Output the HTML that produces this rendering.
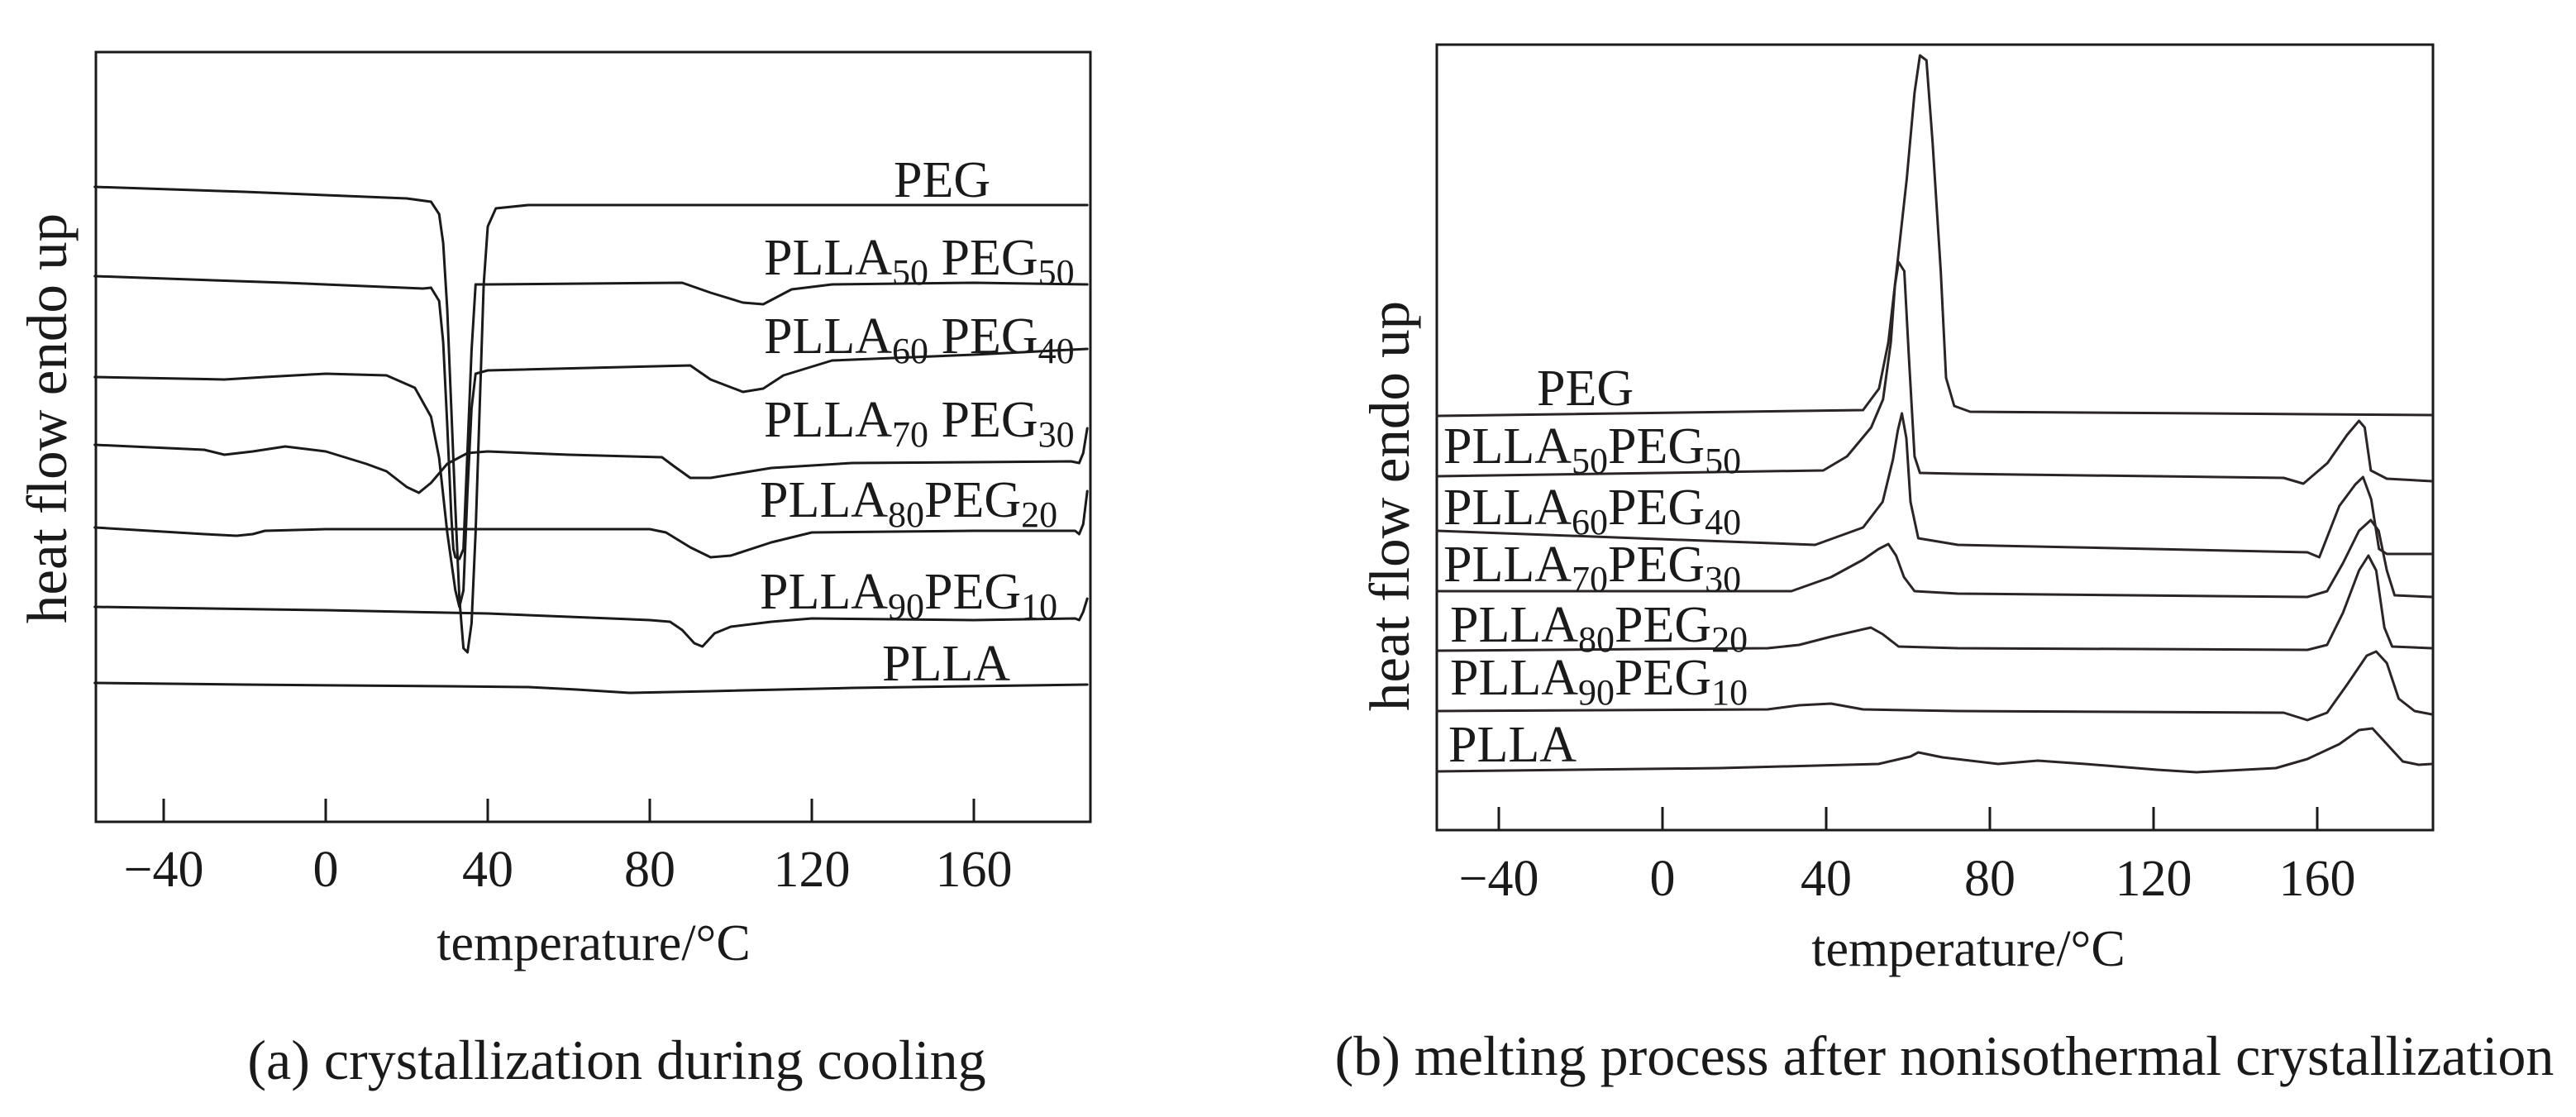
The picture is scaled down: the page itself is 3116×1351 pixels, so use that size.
<!DOCTYPE html>
<html><head><meta charset="utf-8"><style>
html,body{margin:0;padding:0;background:#fff;}
svg{display:block;font-family:"Liberation Serif",serif;}
</style></head><body>
<svg id="fig" width="3116" height="1351" viewBox="0 0 3116 1351" xmlns="http://www.w3.org/2000/svg"></svg>
<script>
// ---- Panel (a) data: temperature (°C) and heat flow (arb. units) ----
const aPEG_T = [-57,-20,20,26,28,29,30,31,32,33,34,35,36,37,38,39,40,42,50,188];
const aPEG_V = [76.8,76.2,75.4,75.0,73.5,70,62,50,38,27,21,20.5,24,35,50,65,72,74.2,74.6,74.6];
const a50_T = [-57,-10,24,26,28,29,30,31,31.5,32,33,34,35,36,37,40,88,95,103,108,115,125,160,188];
const a50_V = [66,65.2,64.5,64.6,63,58,48,37,33,32,31.8,33,45,57,65,65,65.2,64,62.8,62.6,64.4,65,65.2,65];
const a60_T = [-57,-25,-15,0,15,22,26,28,30,32,33,34,35,36,37,40,90,95,103,108,113,125,160,188];
const a60_V = [53.8,53.5,53.8,54.2,54,52.5,49,44,35,28,26,28,40,50,54.2,54.6,55.2,53.5,52,52.4,54,55.8,56.5,57.2];
const a70_T = [-57,-30,-25,-18,-10,0,10,15,20,23,26,30,35,40,60,83,86,90,95,110,130,160,184,186,187,188];
const a70_V = [45.6,45,44.4,44.8,45.4,44.8,43.3,42.4,40.5,39.8,41,43.3,44.6,44.8,44.4,44.1,43,41.6,41.6,42.8,43.4,43.5,43.6,43.4,44.6,47.6];
const a80_T = [-57,-30,-22,-18,-15,0,40,80,84,90,95,100,110,120,160,185,186,187,188];
const a80_V = [35.6,34.8,34.6,34.8,35.2,35.4,35.4,35.4,35,33.2,32,32.2,33.8,35,35.2,35.2,34.8,36,40];
const a90_T = [-57,0,40,80,85,88,91,93,96,100,110,120,160,185,186,187,188];
const a90_V = [26,25.6,25.2,24.4,24.2,23.2,21.6,21.2,22.8,23.6,24.2,24.6,24.4,24.6,24.4,25.4,27];
const aPLLA_T = [-57,-20,30,50,62,75,95,130,188];
const aPLLA_V = [16.8,16.6,16.4,16.3,16,15.6,15.8,16.2,16.6];

// ---- Panel (b) data ----
const bPEG_T = [-55,49,52.9,55.2,57.2,59.7,61.6,62.9,64.5,66,68,69.3,71.3,75.2,188];
const bPEG_V = [50.1,50.8,53.4,59,67.6,78.8,89.2,93.7,93.1,83.2,67.6,54.7,51.3,50.6,50.2];
const b50_T = [-55,39.3,45.1,51,53.9,55.8,56.8,57.7,59.1,60.2,61.6,62.9,72.2,151.8,156.6,162.5,167.3,170.2,171.6,173.1,177,188];
const b50_V = [42.8,43.5,45.2,48.7,52.1,59,65.9,68.7,67.6,57.3,45.2,43.2,43.1,42.6,41.9,44.4,47.8,49.5,48.7,43.5,42.5,42.2];
const b60_T = [-55,37.3,49,53.8,56.3,57.5,58.5,59.6,60.6,62.5,72.2,157.6,160.5,165.4,169.3,171.2,173.2,175.1,177,188];
const b60_V = [36.2,34.5,36.6,39.7,44.8,48.3,50.4,47.4,39.7,35.3,34.5,33.6,33,39.2,41.8,42.7,40,34,33.4,33.4];
const b70_T = [-55,31.5,41.2,49,52.8,55.2,57.1,59,61.6,72.2,157.6,162.4,166.3,170.2,173.1,175,177,178.9,188];
const b70_V = [28.9,28.9,30.6,32.7,34,34.6,33.2,30.6,28.9,28.6,28.2,28.9,32.3,36.2,37.5,36.2,31.4,28.4,28.2];
const b80_T = [-55,25.7,33.4,41.2,50.9,53.8,57.7,72.2,157.6,162.4,166.3,170.2,172.5,174.4,176.4,178.3,188];
const b80_V = [21.7,22,22.4,23.4,24.5,23.7,22.2,22,21.8,22.4,26.3,31.4,33.2,31.4,24.5,22.2,22];
const b90_T = [-55,25.7,33.4,41.2,49,72.2,151.8,157.6,162.4,167.3,172.1,174.4,177,179.9,183.8,188];
const b90_V = [14.4,14.6,15.1,15.3,14.6,14.4,14.2,13.3,14.2,17.6,21.1,21.6,20.2,15.9,14.4,14];
const bPLLA_T = [-55,14,52.8,60.6,62.5,68.4,82,91.7,103.3,120.8,130.5,149.9,157.6,165.4,170.2,173.5,177,180.9,184.8,188];
const bPLLA_V = [7.1,7.5,8,8.9,9.4,8.8,8,8.4,8,7.3,7,7.5,8.6,10.4,12.1,12.3,10.4,8.3,7.9,8];

const tickTemps = [-40,0,40,80,120,160];
const tickLabels = ["\u221240","0","40","80","120","160"];

const NS = "http://www.w3.org/2000/svg";
const svg = document.getElementById('fig');
function mk(tag, attrs, parent){
  const e = document.createElementNS(NS, tag);
  for (const k in attrs) e.setAttribute(k, attrs[k]);
  (parent||svg).appendChild(e);
  return e;
}

function drawPanel(p){
  const g = mk('g', {});
  
  
  const xs = t => p.x0 + (t - p.t0) * p.kx;
  const ys = v => p.yb - v * p.ky;
  const box = mk('rect', {x:p.left, y:p.top, width:p.right-p.left, height:p.yb-p.top, fill:'none', stroke:'#1a1a1a', 'stroke-width':3}, g);
  
  
  tickTemps.forEach((t, i) => {
    const x = xs(t);
    const tk = mk('line', {x1:x, x2:x, y1:p.yb, y2:p.yb-28, stroke:'#1a1a1a', 'stroke-width':3}, g);
    
    
    const lb = mk('text', {x:x, y:p.yb+p.tickDy, 'font-size':62, 'text-anchor':'middle', fill:'#1a1a1a'}, g);
    lb.textContent = tickLabels[i];
    
    
  });
  p.series.forEach(s => {
    let d = '';
    s.T.forEach((t, i) => { d += (i ? 'L' : 'M') + xs(t).toFixed(1) + ',' + ys(s.V[i]).toFixed(1); });
    const path = mk('path', {d:d, fill:'none', stroke:p.color, 'stroke-width':3, 'stroke-linejoin':'round', 'stroke-linecap':'round'}, g);
    
    
  });
  return g;
}

drawPanel({name:'panel-a-cooling', left:116, right:1319, top:63, yb:994, x0:394, t0:0, kx:4.9, ky:10, tickDy:78, color:'#1a1a1a',
  series:[{id:'peg',T:aPEG_T,V:aPEG_V},{id:'plla50-peg50',T:a50_T,V:a50_V},{id:'plla60-peg40',T:a60_T,V:a60_V},
          {id:'plla70-peg30',T:a70_T,V:a70_V},{id:'plla80-peg20',T:a80_T,V:a80_V},{id:'plla90-peg10',T:a90_T,V:a90_V},{id:'plla',T:aPLLA_T,V:aPLLA_V}]});
drawPanel({name:'panel-b-melting', left:1738, right:2943, top:54, yb:1004, x0:2011, t0:0, kx:4.95, ky:10, tickDy:79, color:'#2a2524',
  series:[{id:'peg',T:bPEG_T,V:bPEG_V},{id:'plla50-peg50',T:b50_T,V:b50_V},{id:'plla60-peg40',T:b60_T,V:b60_V},
          {id:'plla70-peg30',T:b70_T,V:b70_V},{id:'plla80-peg20',T:b80_T,V:b80_V},{id:'plla90-peg10',T:b90_T,V:b90_V},{id:'plla',T:bPLLA_T,V:bPLLA_V}]});

// curve labels: [x, baseline, main1, sub1, sep, main2, sub2]
const aLabels = [[1081,238,'PEG','','','',''],[924,332,'PLLA','50',' ','PEG','50'],[924,427,'PLLA','60',' ','PEG','40'],
  [924,528,'PLLA','70',' ','PEG','30'],[919,625,'PLLA','80','','PEG','20'],[919,736,'PLLA','90','','PEG','10'],[1067,823,'PLLA','','','','']];
const bLabels = [[1859,490,'PEG','','','',''],[1746,560,'PLLA','50','','PEG','50'],[1746,634,'PLLA','60','','PEG','40'],
  [1746,703,'PLLA','70','','PEG','30'],[1754,776,'PLLA','80','','PEG','20'],[1754,840,'PLLA','90','','PEG','10'],[1752,921,'PLLA','','','','']];
function label(L){
  const t = mk('text', {x:L[0], y:L[1], 'font-size':62, fill:'#1a1a1a'});
  
  
  const a = mk('tspan', {}, t); a.textContent = L[2];
  if (L[3]) { const s = mk('tspan', {'font-size':44, dy:12}, t); s.textContent = L[3]; }
  if (L[5]) {
    const b = mk('tspan', {dy: L[3] ? -12 : 0}, t); b.textContent = L[4] + L[5];
    const s2 = mk('tspan', {'font-size':44, dy:12}, t); s2.textContent = L[6];
  }
}
aLabels.forEach(label); bLabels.forEach(label);

function text(x, y, str, name, rot, fs){
  const t = mk('text', {x:x, y:y, 'font-size':fs||62, 'text-anchor':'middle', fill:'#1a1a1a'});
  if (rot) t.setAttribute('transform', 'rotate(-90 ' + x + ' ' + y + ')');
  t.textContent = str;
  
  
}
text(80, 506, 'heat flow endo up', 'y-axis-title-a', true, 69);
text(1704, 612, 'heat flow endo up', 'y-axis-title-b', true, 69);
text(718, 1161, 'temperature/\u00B0C', 'x-axis-title-a');
text(2381, 1168, 'temperature/\u00B0C', 'x-axis-title-b');
text(746, 1305, '(a) crystallization during cooling', 'caption-a', false, 68);
text(2352, 1300, '(b) melting process after nonisothermal crystallization', 'caption-b', false, 68);
</script>
</body></html>
